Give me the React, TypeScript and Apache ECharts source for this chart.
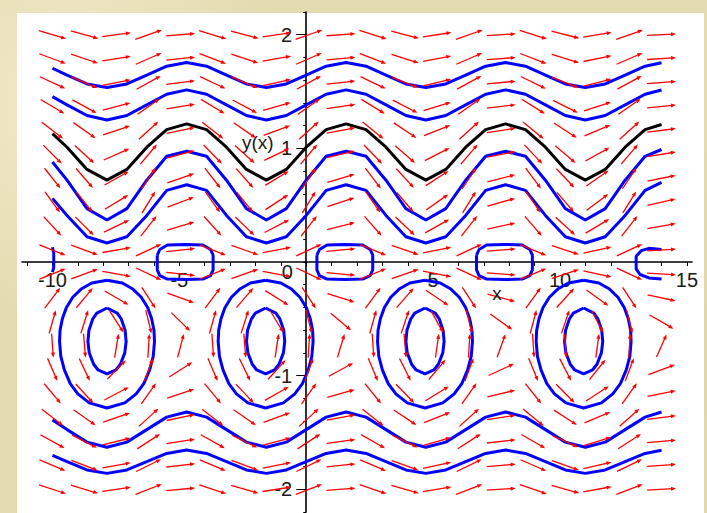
import React, { useEffect, useRef } from "react";
import * as echarts from "echarts";

// Direction-field grid (x columns, y rows)
const gridX = [-10, -8.7368, -7.4737, -6.2105, -4.9474, -3.6842, -2.4211, -1.1579, 0.1053, 1.3684, 2.6316, 3.8947, 5.1579, 6.4211, 7.6842, 8.9474, 10.2105, 11.4737, 12.7368, 14];
const gridY = [-2, -1.7895, -1.5789, -1.3684, -1.1579, -0.9474, -0.7368, -0.5263, -0.3158, -0.1053, 0.1053, 0.3158, 0.5263, 0.7368, 0.9474, 1.1579, 1.3684, 1.5789, 1.7895, 2];
// slope factors per column and per row (slope = colFactor * rowFactor)
const colFactor = [-0.8391, -0.7726, 0.3714, 0.9974, 0.233, -0.8564, -0.7514, 0.4013, 0.9945, 0.201, -0.8727, -0.7296, 0.4309, 0.9905, 0.169, -0.8882, -0.7069, 0.4601, 0.9855, 0.1368];
const rowFactor = [0.087, 0.1105, 0.1461, 0.2046, 0.3166, 0.6108, 3.683, -0.9355, -0.3488, -0.1057, 0.1049, 0.2885, 0.3661, 0.3349, 0.2668, 0.2047, 0.1575, 0.1233, 0.0984, 0.08];

// Solution curves sampled along x
const curveX = [-10, -9.425, -8.639, -7.854, -7.069, -6.283, -5.498, -4.712, -3.927, -3.142, -2.356, -1.571, -0.785, 0, 0.785, 1.571, 2.356, 3.142, 3.927, 4.712, 5.498, 6.283, 7.069, 7.854, 8.639, 9.425, 10.21, 10.996, 11.781, 12.566, 13.352, 14];
const curveU1 = [1.705, 1.645, 1.567, 1.535, 1.567, 1.645, 1.723, 1.755, 1.723, 1.645, 1.567, 1.535, 1.567, 1.645, 1.723, 1.755, 1.723, 1.645, 1.567, 1.535, 1.567, 1.645, 1.723, 1.755, 1.723, 1.645, 1.567, 1.535, 1.567, 1.645, 1.723, 1.754];
const curveU2 = [1.455, 1.383, 1.289, 1.25, 1.289, 1.383, 1.476, 1.515, 1.476, 1.383, 1.289, 1.25, 1.289, 1.383, 1.476, 1.515, 1.476, 1.383, 1.289, 1.25, 1.289, 1.383, 1.476, 1.515, 1.476, 1.383, 1.289, 1.25, 1.289, 1.383, 1.476, 1.514];
const curveBlack = [1.13, 1.01, 0.815, 0.72, 0.815, 1.01, 1.165, 1.215, 1.165, 1.01, 0.815, 0.72, 0.815, 1.01, 1.165, 1.215, 1.165, 1.01, 0.815, 0.72, 0.815, 1.01, 1.165, 1.215, 1.165, 1.01, 0.815, 0.72, 0.815, 1.01, 1.165, 1.21];
const curveU4 = [0.88, 0.72, 0.47, 0.37, 0.47, 0.72, 0.93, 0.975, 0.93, 0.72, 0.47, 0.37, 0.47, 0.72, 0.93, 0.975, 0.93, 0.72, 0.47, 0.37, 0.47, 0.72, 0.93, 0.975, 0.93, 0.72, 0.47, 0.37, 0.47, 0.72, 0.93, 0.99];
const curveU5 = [0.56, 0.41, 0.222, 0.167, 0.222, 0.41, 0.63, 0.68, 0.63, 0.41, 0.222, 0.167, 0.222, 0.41, 0.63, 0.68, 0.63, 0.41, 0.222, 0.167, 0.222, 0.41, 0.63, 0.68, 0.63, 0.41, 0.222, 0.167, 0.222, 0.41, 0.63, 0.7];
const curveL1 = [-1.391, -1.475, -1.585, -1.63, -1.585, -1.475, -1.365, -1.32, -1.365, -1.475, -1.585, -1.63, -1.585, -1.475, -1.365, -1.32, -1.365, -1.475, -1.585, -1.63, -1.585, -1.475, -1.365, -1.32, -1.365, -1.475, -1.585, -1.63, -1.585, -1.475, -1.365, -1.32];
const curveL2 = [-1.702, -1.7575, -1.83, -1.86, -1.83, -1.7575, -1.685, -1.655, -1.685, -1.7575, -1.83, -1.86, -1.83, -1.7575, -1.685, -1.655, -1.685, -1.7575, -1.83, -1.86, -1.83, -1.7575, -1.685, -1.655, -1.685, -1.7575, -1.83, -1.86, -1.83, -1.7575, -1.685, -1.656];

// Closed orbits: centres and shapes (dx from centre, y)
const orbitCenters = [-7.85, -1.6, 4.68, 10.93];
const outerShape = [[0, -0.16], [0.6, -0.185], [1.0, -0.235], [1.35, -0.31], [1.6, -0.4], [1.76, -0.5], [1.85, -0.6], [1.87, -0.7], [1.82, -0.83], [1.68, -0.95], [1.45, -1.07], [1.15, -1.16], [0.7, -1.24], [0, -1.285], [-0.7, -1.24], [-1.15, -1.16], [-1.45, -1.07], [-1.68, -0.95], [-1.82, -0.83], [-1.87, -0.7], [-1.85, -0.6], [-1.76, -0.5], [-1.6, -0.4], [-1.35, -0.31], [-1.0, -0.235], [-0.6, -0.185], [0, -0.16]];
const innerShape = [[0, -0.405], [0.404, -0.45], [0.559, -0.5], [0.712, -0.6], [0.753, -0.7], [0.7, -0.8], [0.527, -0.9], [0.352, -0.95], [0, -0.985], [-0.352, -0.95], [-0.527, -0.9], [-0.7, -0.8], [-0.753, -0.7], [-0.712, -0.6], [-0.559, -0.5], [-0.404, -0.45], [0, -0.405]];
const loopCenters = [-4.77, 1.52, 7.81];
const loopShape = [[-1.1, 0.06], [-1.0, 0.11], [-0.7, 0.15], [0, 0.155], [0.7, 0.15], [1.0, 0.11], [1.1, 0.06], [1.1, -0.07], [1.0, -0.12], [0.7, -0.15], [0, -0.155], [-0.7, -0.15], [-1.0, -0.12], [-1.1, -0.07], [-1.1, 0.06]];
const leftStub = [[-10, 0.13], [-9.95, 0.08], [-9.95, -0.05], [-10, -0.09]];
const rightStub = [[14, 0.11], [13.5, 0.12], [13.2, 0.1], [13.0, 0.05], [13.0, -0.06], [13.15, -0.11], [13.5, -0.14], [14, -0.15]];

const xTickValues = [-11, -10, -9, -8, -7, -6, -5, -4, -3, -2, -1, 0, 1, 2, 3, 4, 5, 6, 7, 8, 9, 10, 11, 12, 13, 14, 15];
const xLabelValues = [-10, -5, 5, 10, 15];
const yMinorTicks = [-2.2, -2, -1.8, -1.6, -1.4, -1.2, -1, -0.8, -0.6, -0.4, -0.2, 0, 0.2, 0.4, 0.6, 0.8, 1, 1.2, 1.4, 1.6, 1.8, 2, 2.2];
const yLabelValues = [-2, -1, 1, 2];

const X_MIN = -11.2;
const X_MAX = 15.2;
const Y_MIN = -2.2;
const Y_MAX = 2.2;

const FONT = "'Liberation Sans', Arial, sans-serif";

// plot frame (pixels)
const G_LEFT = 22;
const G_TOP = 12;
const G_W = 670;
const G_H = 500;

export default function App() {
  const ref = useRef<HTMLDivElement>(null);
  useEffect(() => {
    if (!ref.current) return;
    const chart = echarts.init(ref.current, undefined, { renderer: "svg" });

    const arrowData: number[][] = [];
    gridX.forEach((x, i) => {
      gridY.forEach((y, j) => {
        arrowData.push([x, y, colFactor[i] * rowFactor[j]]);
      });
    });

    const lineSeries = (data: number[][], color: string) => ({
      type: "line",
      data,
      showSymbol: false,
      symbol: "none",
      silent: true,
      lineStyle: { color, width: 3 },
      xAxisIndex: 0,
      yAxisIndex: 0,
      z: 2,
    });
    const zip = (ys: number[]) => curveX.map((x, k) => [x, ys[k]]);

    const series: any[] = [];
    [curveU1, curveU2, curveU4, curveU5, curveL1, curveL2].forEach((c) => series.push(lineSeries(zip(c), "#0000ff")));
    series.push(lineSeries(zip(curveBlack), "#000000"));
    orbitCenters.forEach((cx) => {
      series.push(lineSeries(outerShape.map(([dx, y]) => [cx + dx, y]), "#0000ff"));
      series.push(lineSeries(innerShape.map(([dx, y]) => [cx + dx, y]), "#0000ff"));
    });
    loopCenters.forEach((cx) => {
      series.push(lineSeries(loopShape.map(([dx, y]) => [cx + dx, y]), "#0000ff"));
    });
    series.push(lineSeries(leftStub, "#0000ff"));
    series.push(lineSeries(rightStub, "#0000ff"));

    series.push({
      type: "custom",
      data: arrowData,
      silent: true,
      z: 5,
      xAxisIndex: 0,
      yAxisIndex: 0,
      renderItem: (params: any, api: any) => {
        const x = api.value(0);
        const y = api.value(1);
        const s = api.value(2);
        const c = api.coord([x, y]);
        const size = api.size([1, 1]);
        let dx = size[0];
        let dy = -s * size[1];
        const n = Math.hypot(dx, dy);
        dx /= n;
        dy /= n;
        const a = 14.5;
        const b = 12;
        const h = 1 / Math.sqrt((dx / a) ** 2 + (dy / b) ** 2);
        const x1 = c[0] - dx * h;
        const y1 = c[1] - dy * h;
        const x2 = c[0] + dx * h;
        const y2 = c[1] + dy * h;
        const hl = 5;
        const hw = 2;
        const bx = x2 - dx * hl;
        const by = y2 - dy * hl;
        const px = -dy;
        const py = dx;
        return {
          type: "group",
          children: [
            { type: "line", shape: { x1, y1, x2: bx + dx * 2, y2: by + dy * 2 }, style: { stroke: "#ff0000", lineWidth: 1.3 } },
            {
              type: "polygon",
              shape: { points: [[x2, y2], [bx + px * hw, by + py * hw], [bx - px * hw, by - py * hw]] },
              style: { fill: "#ff0000" },
            },
          ],
        };
      },
    });

    // pixel positions of the zero lines inside the frame
    const zeroY = G_TOP + (Y_MAX / (Y_MAX - Y_MIN)) * G_H;
    const zeroX = G_LEFT + (-X_MIN / (X_MAX - X_MIN)) * G_W;

    const hiddenAxis = (gridIndex: number, min: number, max: number) => ({
      type: "value",
      gridIndex,
      min,
      max,
      show: false,
    });

    const option: any = {
      animation: false,
      backgroundColor: "transparent",
      grid: [
        // data frame
        { left: G_LEFT, top: G_TOP, width: G_W, height: G_H, containLabel: false, outerBoundsMode: "none" },
        // frame whose bottom edge is y = 0 (carries the x axis)
        { left: G_LEFT, top: G_TOP, width: G_W, height: zeroY - G_TOP, containLabel: false, outerBoundsMode: "none" },
        // frame whose left edge is x = 0 (carries the y axis)
        { left: zeroX, top: G_TOP, width: 100, height: G_H, containLabel: false, outerBoundsMode: "none" },
      ],
      xAxis: [
        hiddenAxis(0, X_MIN, X_MAX),
        {
          type: "value",
          gridIndex: 1,
          min: X_MIN,
          max: X_MAX,
          position: "bottom",
          axisLine: { show: true, onZero: false, lineStyle: { color: "#000", width: 1.6 } },
          axisTick: { show: true, customValues: xTickValues, length: 4, lineStyle: { color: "#000", width: 1 } },
          axisLabel: { show: true, customValues: xLabelValues, fontSize: 20, color: "#1a1a1a", margin: 8, fontFamily: FONT },
          splitLine: { show: false },
        },
        hiddenAxis(2, 0, 1),
      ],
      yAxis: [
        hiddenAxis(0, Y_MIN, Y_MAX),
        hiddenAxis(1, 0, 1),
        {
          type: "value",
          gridIndex: 2,
          min: Y_MIN,
          max: Y_MAX,
          position: "left",
          axisLine: { show: true, onZero: false, lineStyle: { color: "#000", width: 1.6 } },
          axisTick: { show: true, customValues: yMinorTicks, length: 3, lineStyle: { color: "#000", width: 1 } },
          axisLabel: { show: true, customValues: yLabelValues, fontSize: 20, color: "#1a1a1a", margin: 14, fontFamily: FONT },
          splitLine: { show: false },
        },
        {
          type: "value",
          gridIndex: 2,
          min: Y_MIN,
          max: Y_MAX,
          position: "left",
          offset: 0,
          axisLine: { show: false, onZero: false },
          axisTick: { show: true, customValues: yLabelValues, length: 10, lineStyle: { color: "#000", width: 1 } },
          axisLabel: { show: false },
          splitLine: { show: false },
        },
      ],
      series,
    };
    chart.setOption(option);

    const p0 = chart.convertToPixel({ gridIndex: 0 }, [-0.75, -0.09]) as number[];
    const pY = chart.convertToPixel({ gridIndex: 0 }, [-1.91, 1.056]) as number[];
    const pX = chart.convertToPixel({ gridIndex: 0 }, [7.52, -0.28]) as number[];
    const txt = (p: number[], t: string, size: number) => ({
      type: "text",
      x: p[0],
      y: p[1],
      silent: true,
      z: 10,
      style: { text: t, fill: "#1a1a1a", font: `${size}px ${FONT}`, align: "center", verticalAlign: "middle" },
    });
    chart.setOption({ graphic: [txt(p0, "0", 20), txt(pY, "y(x)", 19), txt(pX, "x", 19)] });

    return () => chart.dispose();
  }, []);

  return (
    <div
      style={{
        position: "fixed",
        left: 0,
        top: 0,
        width: 707,
        height: 513,
        background:
          "radial-gradient(circle at 10% 20%, rgba(250,245,215,0.6), rgba(0,0,0,0) 30%), radial-gradient(circle at 80% 70%, rgba(205,195,150,0.35), rgba(0,0,0,0) 40%), #e4dab0",
        overflow: "hidden",
      }}
    >
      <div style={{ position: "absolute", left: 17, top: 13, width: 687, height: 500, background: "#ffffff" }} />
      <div ref={ref} style={{ position: "absolute", left: 0, top: 0, width: 707, height: 513 }} />
    </div>
  );
}
